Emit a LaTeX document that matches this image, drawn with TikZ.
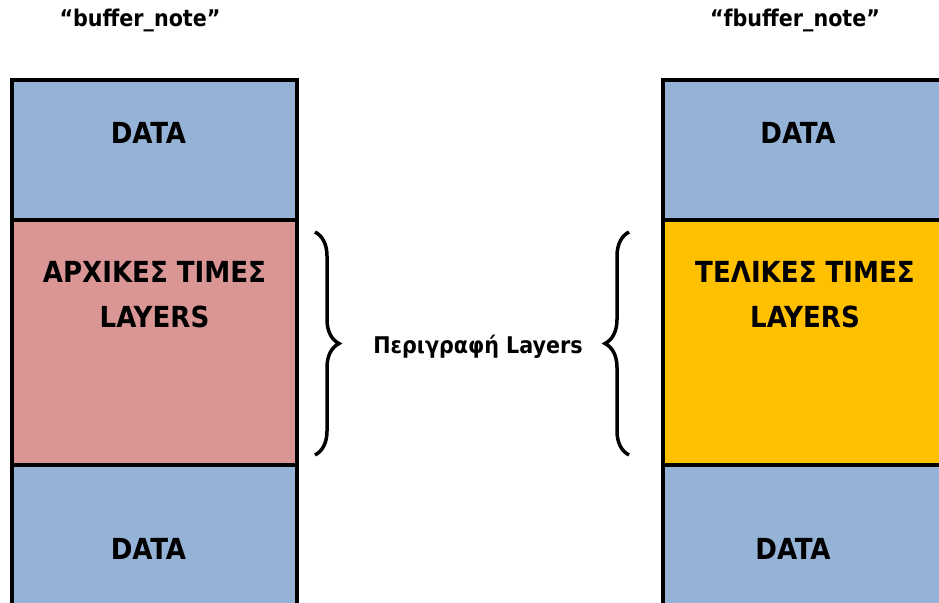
\documentclass[tikz,border=0pt]{standalone}
\usepackage{fontspec}
\setmainfont{DejaVu Sans Condensed}
\usetikzlibrary{positioning,decorations.pathreplacing}

\definecolor{datablue}{HTML}{95B3D7}
\definecolor{initred}{HTML}{D99694}
\definecolor{finalorange}{HTML}{FFC000}

\tikzset{
	memblock/.style={draw=black, line width=4pt, rectangle, minimum width=285pt,
		inner sep=0pt, outer sep=0pt, anchor=north west},
	blocktext/.style={font=\fontsize{29}{45}\selectfont\bfseries, align=center,
		inner sep=0pt, text=black},
	titletext/.style={font=\fontsize{23}{27}\selectfont\bfseries, inner sep=0pt},
	layerbrace/.style={decorate, decoration={brace, amplitude=24pt}, line width=3.5pt}
}

\begin{document}
\begin{tikzpicture}[x=1pt,y=-1pt]
	\useasboundingbox (0,0) rectangle (939,602);
	\clip (0,0) rectangle (939,602);

	% buffer_note
	\node[memblock, fill=datablue, minimum height=140pt] (ltop) at (12,79.5){};
	\node[memblock, fill=initred, minimum height=245pt] (lmid) at (ltop.south west){};
	\node[memblock, fill=datablue, minimum height=185pt] (lbot) at (lmid.south west){};

	\node[blocktext, below=43pt of ltop.north, xshift=-6pt] (ltopTxt){DATA};
	\node[blocktext, below=42pt of lmid.north] (lmidTxt){ΑΡΧΙΚΕΣ ΤΙΜΕΣ\\LAYERS};
	\node[blocktext, below=74pt of lbot.north, xshift=-6pt] (lbotTxt){DATA};

	% fbuffer_note
	\node[memblock, fill=datablue, minimum height=140pt] (rtop) at (662.5,79.5){};
	\node[memblock, fill=finalorange, minimum height=245pt] (rmid) at (rtop.south west){};
	\node[memblock, fill=datablue, minimum height=185pt] (rbot) at (rmid.south west){};

	\node[blocktext, below=43pt of rtop.north, xshift=-7pt] (rtopTxt){DATA};
	\node[blocktext, below=42pt of rmid.north] (rmidTxt){ΤΕΛΙΚΕΣ ΤΙΜΕΣ\\LAYERS};
	\node[blocktext, below=74pt of rbot.north, xshift=-12pt] (rbotTxt){DATA};

	% titles
	\node[titletext] (ltitle) at (140,20){“buffer\_note”};
	\node[titletext] (rtitle) at (795,20){“fbuffer\_note”};

	% braces
	\coordinate (lbraceTop) at (315,232);
	\coordinate (lbraceBot) at (315,455);
	\coordinate (rbraceTop) at (629,232);
	\coordinate (rbraceBot) at (629,455);
	\draw[layerbrace] (lbraceTop) -- (lbraceBot);
	\draw[layerbrace] (rbraceBot) -- (rbraceTop);

	\node[titletext] (desc) at (478,347){Περιγραφή Layers};
\end{tikzpicture}
\end{document}
